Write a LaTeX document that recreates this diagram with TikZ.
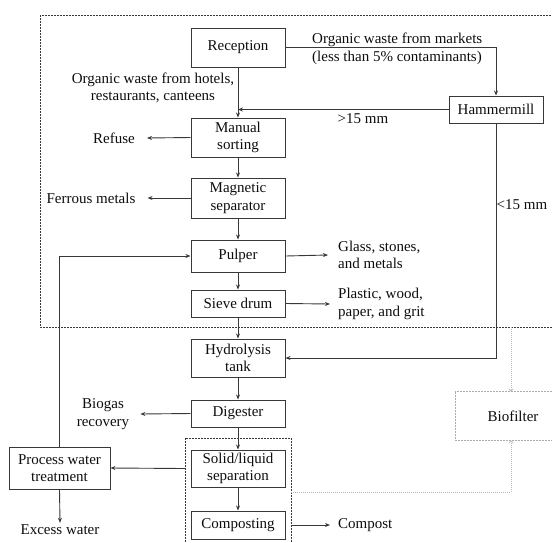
\documentclass[tikz,border=0pt]{standalone}
\usepackage{fontspec}
\setmainfont{Liberation Serif}
\usetikzlibrary{arrows.meta}
\definecolor{linec}{gray}{0.22}
\definecolor{txtc}{gray}{0.05}
\begin{document}
\begin{tikzpicture}[x=1pt,y=-1pt,
  font=\fontsize{15}{17.5}\selectfont,
  box/.style={draw=linec, line width=1pt, align=center, inner sep=1pt, minimum width=94pt, text=txtc},
  lbl/.style={align=center, inner sep=0pt, text=txtc},
  arr/.style={draw=linec, line width=0.9pt, -{Stealth[length=5pt,width=4pt]}},
  dframe/.style={draw=linec, line width=0.9pt, dash pattern=on 2pt off 1pt},
  lframe/.style={draw=gray!65, line width=0.9pt, dash pattern=on 2pt off 1pt},
  dotarr/.style={draw=gray!55, line width=0.7pt, dash pattern=on 1pt off 1pt, -{To[length=3pt,width=5pt]}}
]
\useasboundingbox (0,0) rectangle (552,542);
\clip (0,0) rectangle (552,542);

% frames
\coordinate (f1) at (40,15);
\coordinate (f2) at (570,327);
\draw[dframe] (f1) rectangle (f2);
\coordinate (ib1) at (185,438);
\coordinate (ib2) at (291,560);
\draw[dframe] (ib1) rectangle (ib2);

% boxes
\node[box, minimum height=39pt] (rec) at (238,47.5) {Reception};
\node[box, minimum height=39pt] (man) at (238,137.5) {Manual\\sorting};
\node[box, minimum height=40pt] (mag) at (238,198) {Magnetic\\separator};
\node[box, minimum height=32pt] (pul) at (238,256) {Pulper};
\node[box, minimum height=27pt] (sie) at (238,303.5) {Sieve drum};
\node[box, minimum height=38pt] (hyd) at (238,358) {Hydrolysis\\tank};
\node[box, minimum height=27pt] (dig) at (238,413.5) {Digester};
\node[box, minimum height=37pt] (sol) at (238,468.5) {Solid/liquid\\separation};
\node[box, minimum height=28pt] (com) at (238,525) {Composting};
\node[box, minimum width=101pt, minimum height=42pt] (pwt) at (59.5,468) {Process water\\treatment};
\node[box, minimum height=27pt] (ham) at (496,109.5) {Hammermill};
\node[box, draw=none, minimum width=110pt, minimum height=48pt] (bio) at (511,416) {};
\draw[lframe] (bio.north east) -- (bio.north west) -- (bio.south west) -- (bio.south east);
\node[lbl] (biot) at (513,416) {Biofilter};

% labels
\node[lbl] (owh) at (153,88) {Organic waste from hotels,\\restaurants, canteens};
\node[lbl, align=left, anchor=west] (owm) at (312,49) {Organic waste from markets\\(less than 5\% contaminants)};
\node[lbl] (gt) at (363,119) {>15 mm};
\node[lbl] (lt) at (522,205) {<15 mm};
\node[lbl] (ref) at (114,138) {Refuse};
\node[lbl] (fer) at (91,198) {Ferrous metals};
\node[lbl, align=left, anchor=west] (gla) at (338,255) {Glass, stones,\\and metals};
\node[lbl, align=left, anchor=west] (pla) at (338,304) {Plastic, wood,\\paper, and grit};
\node[lbl] (bgr) at (103,414) {Biogas\\recovery};
\node[lbl] (exw) at (60,530) {Excess water};
\node[lbl, anchor=west] (cmp) at (338,525) {Compost};

% main flow
\draw[arr] (rec) -- (man);
\draw[arr] (man) -- (mag);
\draw[arr] (mag) -- (pul);
\draw[arr] (pul) -- (sie);
\draw[arr] (sie) -- (hyd);
\draw[arr] (hyd) -- (dig);
\draw[arr] (dig) -- (sol);
\draw[arr] (sol) -- (com);

% hammermill branch
\draw[arr] (rec.east) -| (ham.north);
\draw[arr] (ham.west) -- (rec.south |- ham.west);
\draw[arr] (ham.south) |- (hyd.east);

% side outputs
\draw[arr] (man.west) -- ([xshift=12pt]ref.east);
\draw[arr] (mag.west) -- ([xshift=12pt]fer.east);
\draw[arr] (pul.east) -- ([xshift=-10pt]gla.west);
\draw[arr] (sie.east) -- ([xshift=-8pt]pla.west);
\draw[arr] (dig.west) -- ([xshift=11pt]bgr.east);
\draw[arr] (ib1 |- sol.west) -- (pwt.east);
\draw[arr] (pwt.south) -- ([yshift=2pt]exw.north);
\draw[arr] (ib2 |- com.east) -- ([xshift=-8pt]cmp.west);
\draw[arr] (pwt.north) |- (pul.west);

% to biofilter
\draw[dotarr] (f2 -| bio.north) -- (bio.north);
\coordinate (ibr) at (291,492);
\draw[dotarr] (ibr) -| (bio.south);
\end{tikzpicture}
\end{document}
